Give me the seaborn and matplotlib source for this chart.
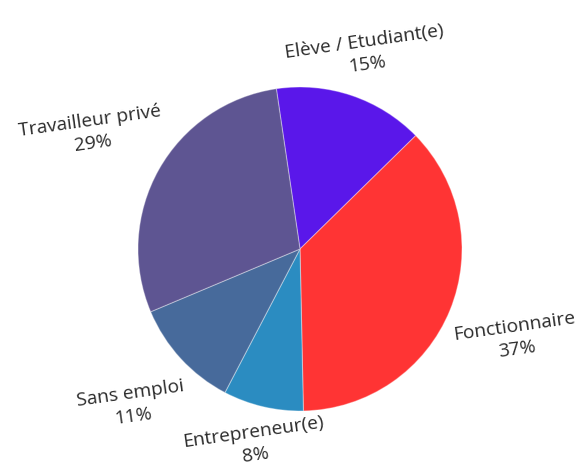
import matplotlib
matplotlib.use("Agg")
import matplotlib.pyplot as plt
import seaborn as sns
import numpy as np

# Répartition des répondants par situation professionnelle
categories = ["Elève / Etudiant(e)", "Fonctionnaire", "Entrepreneur(e)",
              "Sans emploi", "Travailleur privé"]
shares = [15, 37, 8, 11, 29]
colors = ["#5A17EA", "#FF3434", "#2B8CC1", "#476A9B", "#5E5592"]
label_dist = [1.28, 1.44, 1.23, 1.41, 1.48]

sns.set_theme(style="white")
plt.rcParams["font.family"] = ["Open Sans", "DejaVu Sans"]

fig = plt.figure(figsize=(5.81, 4.77), dpi=100)
ax = fig.add_axes([0, 0, 1, 1])

start = 98.4
wedges, _ = ax.pie(shares, colors=sns.color_palette(colors), startangle=start,
                   counterclock=False, radius=1.0,
                   wedgeprops=dict(edgecolor=(1, 1, 1, 0.35), linewidth=0.8))

total = float(sum(shares))
angle = start
for name, val, d in zip(categories, shares, label_dist):
    span = 360.0 * val / total
    mid = np.deg2rad(angle - span / 2)
    angle -= span
    ax.text(d * np.cos(mid), d * np.sin(mid), f"{name}\n{val}%",
            ha="center", va="center", rotation=8, rotation_mode="anchor",
            fontsize=13.8, color="#2b2b2b", linespacing=1.35, multialignment="center")

ax.set_aspect("equal")
ax.set_xlim(-300 / 162, 281 / 162)
ax.set_ylim(-227 / 162, 250 / 162)
ax.axis("off")

fig.savefig("out.png", dpi=100, facecolor="white")
